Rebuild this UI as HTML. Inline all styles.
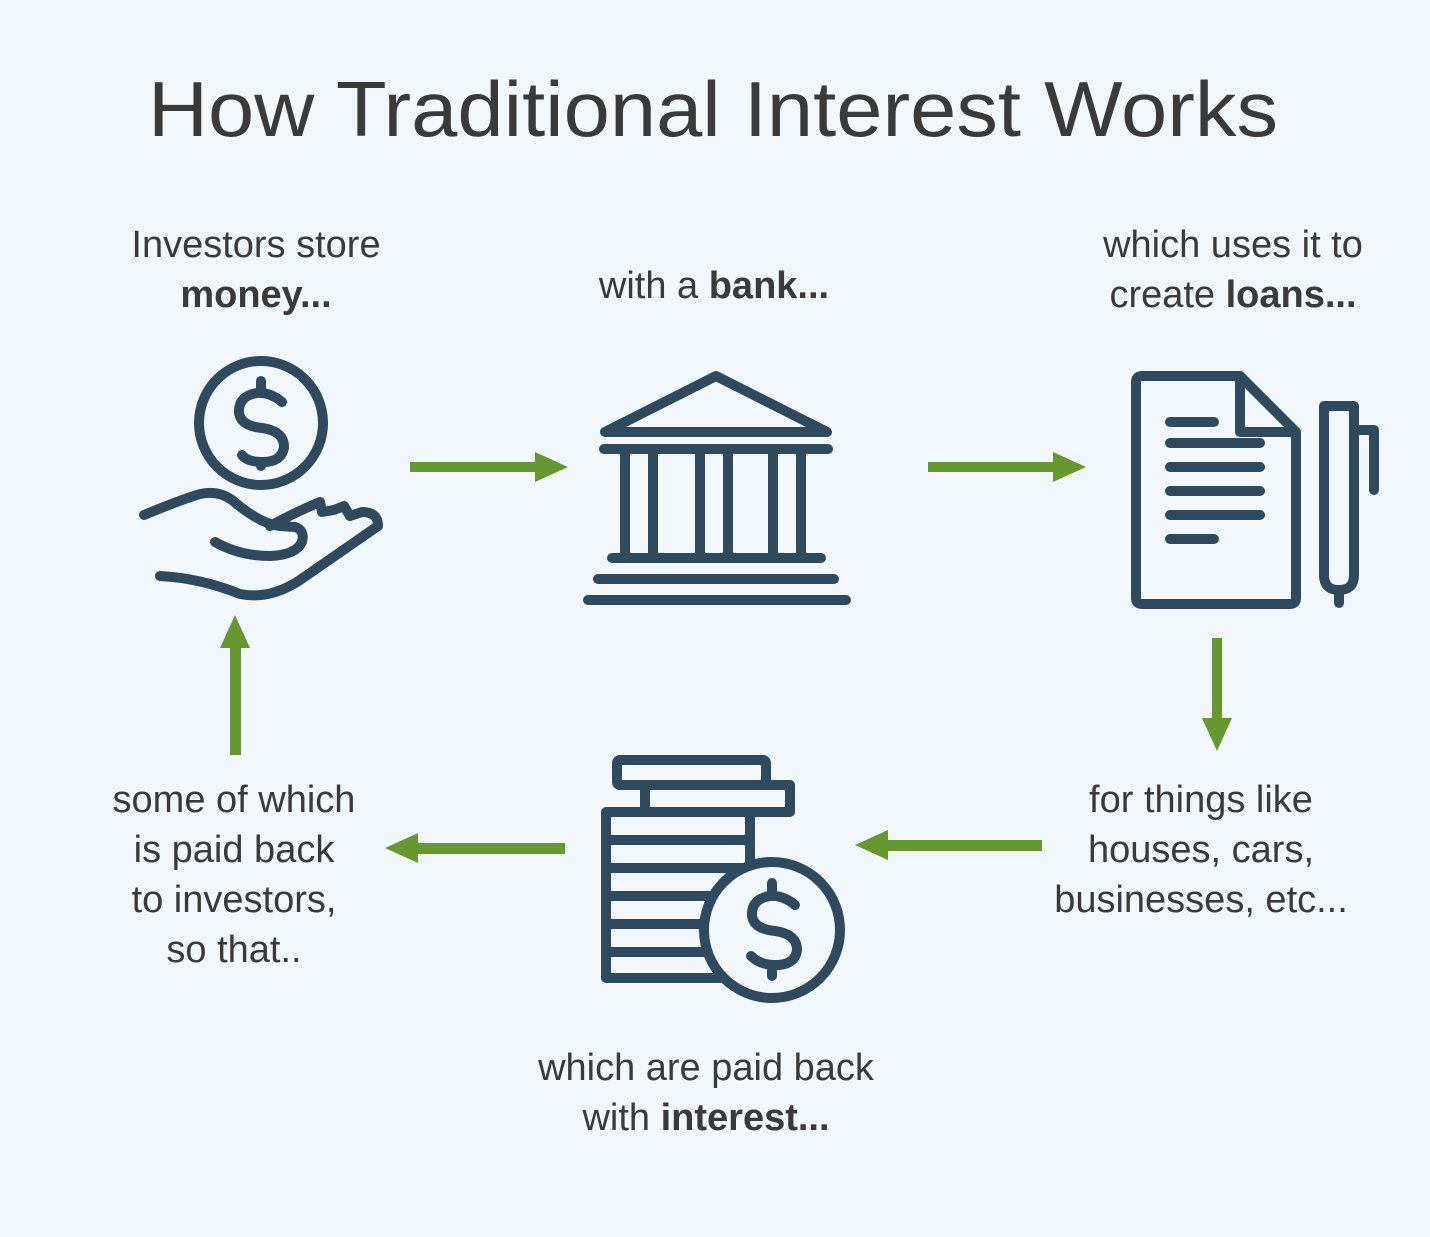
<!DOCTYPE html>
<html><head><style>
html,body{margin:0;padding:0;background:#f2f7fb;}
svg{display:block}
text{font-family:"Liberation Sans",sans-serif;fill:#3a3a3a;}
</style></head><body>
<svg width="1430" height="1237" viewBox="0 0 1430 1237">
<rect width="1430" height="1237" fill="#f2f7fb"/>
<text x="148" y="136" font-size="78" textLength="1130" lengthAdjust="spacingAndGlyphs" fill="#404040">How Traditional Interest Works</text>
<g font-size="38" text-anchor="middle">
<text x="256" y="257">Investors store</text>
<text x="256" y="307" font-weight="bold">money...</text>
<text x="714" y="298">with a <tspan font-weight="bold">bank...</tspan></text>
<text x="1233" y="257">which uses it to</text>
<text x="1233" y="307">create <tspan font-weight="bold">loans...</tspan></text>
<text x="1201" y="812">for things like</text>
<text x="1201" y="862">houses, cars,</text>
<text x="1201" y="912">businesses, etc...</text>
<text x="706" y="1080">which are paid back</text>
<text x="706" y="1130">with <tspan font-weight="bold">interest...</tspan></text>
<text x="234" y="812">some of which</text>
<text x="234" y="862">is paid back</text>
<text x="234" y="912">to investors,</text>
<text x="234" y="962">so that..</text>
</g>
<g fill="none" stroke="#2f4a5e" stroke-width="10" stroke-linecap="round" stroke-linejoin="round">
<circle cx="261" cy="423" r="62"/>
<path d="M282 402 Q270 392 257 393 Q238 396 239 413 Q241 426 262 428 Q284 431 284 447 Q282 463 260 462 Q246 461 242 455"/>
<path d="M261 381 V393 M261 462 V466"/>
<path d="M144 515 Q180 500 200 494 Q218 490 232 500 Q260 524 280 526 L295 527 Q305 530 302 542 Q296 555 270 556 Q240 556 215 542"/>
<path d="M270 526 Q300 510 320 502 L322 512 L334 510 L344 506 L350 516 L362 512 Q378 512 378 526 L300 580 Q270 600 240 594 Q200 578 160 576"/>
<path d="M605 432 L716 376 L827 432 Z"/>
<path d="M604 449 H828"/>
<path d="M625 452 V556 M653 452 V556 M700 452 V556 M728 452 V556 M773 452 V556 M801 452 V556"/>
<path d="M612 558 H821 M598 579 H834 M588 600 H846"/>
<path d="M1136 382 Q1136 376 1142 376 H1240 L1296 432 V598 Q1296 604 1290 604 H1142 Q1136 604 1136 598 Z"/>
<path d="M1240 376 V432 H1296"/>
<path d="M1170 422 H1214 M1170 443 H1260 M1170 467 H1260 M1170 491 H1260 M1170 515 H1260 M1170 539 H1214"/>
<path d="M1324 406 H1354 V575 Q1354 590 1339 590 Q1324 590 1324 575 Z M1339 590 V603 M1354 430 H1374 V490"/>
<rect x="617" y="760" width="149" height="25" rx="3"/>
<path d="M645 785 V812 M790 785 V812 H750"/>
<path d="M645 785 H790"/>
<path d="M606 812 H750 V870 M606 812 V978 H720"/>
<path d="M606 840 H750 M606 868 H745 M606 896 H725 M606 924 H705 M606 952 H712"/>
<circle cx="772" cy="930" r="68" fill="#f2f7fb"/>
<path d="M795 905 Q783 895 770 896 Q751 899 752 916 Q754 929 775 931 Q797 934 797 950 Q795 966 773 965 Q759 964 751 956"/>
<path d="M772 883 V896 M772 965 V976"/>
</g>
<g fill="#66982f">
<rect x="410" y="462" width="130" height="10"/><polygon points="535,452 568,467 535,482"/>
<rect x="928" y="462" width="130" height="10"/><polygon points="1053,452 1086,467 1053,482"/>
<rect x="1212" y="638" width="10" height="85"/><polygon points="1202,718 1232,718 1217,751"/>
<rect x="885" y="840" width="157" height="11"/><polygon points="888,830 855,845 888,860"/>
<rect x="415" y="843" width="150" height="11"/><polygon points="418,833 385,848 418,863"/>
<rect x="230" y="645" width="11" height="110"/><polygon points="220,648 250,648 235,615"/>
</g>
</svg>
</body></html>
